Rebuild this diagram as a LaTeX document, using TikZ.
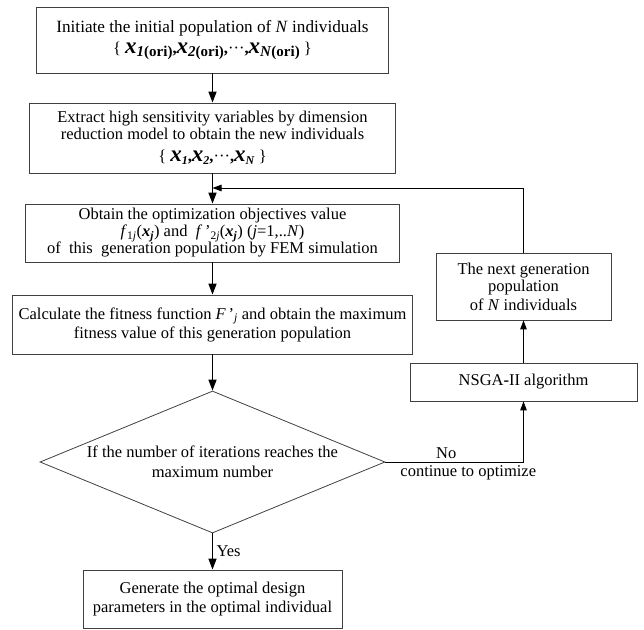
\documentclass[tikz,border=0pt]{standalone}
\usepackage{fontspec}
\setmainfont{Liberation Serif}
\usepackage{tikz}
\usetikzlibrary{arrows, arrows.meta, shapes.geometric}
\newcommand{\popx}[2]{{\fontsize{23}{23}\selectfont\bfseries\itshape x}\raisebox{-3pt}{\fontsize{#1}{#1}\selectfont\bfseries #2}}

\begin{document}
\begin{tikzpicture}[x=1pt, y=-1pt]
\tikzstyle{every node}=[font=\fontsize{16.5}{17}\selectfont]
\tikzstyle{box}=[draw=black!75, line width=0.8pt, rectangle, align=center, inner sep=0pt]
\tikzstyle{decision}=[draw=black!75, line width=0.8pt, diamond, inner sep=0pt]
\tikzstyle{mainarrow}=[line width=1.5pt, -{Triangle[length=11pt, width=8pt]}]
\tikzstyle{sidearrow}=[line width=1pt, -{Triangle[length=9pt, width=6.5pt]}]
\useasboundingbox (0,0) rectangle (644,629);

\node[box, minimum width=352pt, minimum height=66pt] (init) at (212.5,40) {{\fontsize{17.2}{18}\selectfont Initiate the initial population of \textit{N} individuals}\\[4pt]
  \{ \popx{15}{\textit{1}(ori)}\textbf{,}\popx{15}{\textit{2}(ori)}\textbf{,}···\textbf{,}\popx{15}{\textit{N}(ori)} \}};
\node[box, minimum width=366pt, minimum height=70pt] (extract) at (212.5,138) {Extract high sensitivity variables by dimension\\
  reduction model to obtain the new individuals\\[5pt]
  \{ \popx{12}{\textit{1}}\textbf{,}\popx{12}{\textit{2}}\textbf{,}···\textbf{,}\popx{12}{\textit{N}} \}};
\node[box, minimum width=374pt, minimum height=58pt] (obtain) at (212.5,233) {Obtain the optimization objectives value\\
  \textit{f}\textsubscript{1\textit{j}}(\textbf{\textit{x\textsubscript{j}}}) and \ \textit{f}\,’\textsubscript{2\textit{j}}(\textbf{\textit{x\textsubscript{j}}}) (\textit{j}=1,..\textit{N})\\
  of \ this \ generation population by FEM simulation};
\node[box, minimum width=400pt, minimum height=59pt] (calc) at (212.5,324.5) {Calculate the fitness function \textit{F}\,’\textsubscript{\textit{j}} and obtain the maximum\\[2pt]
  fitness value of this generation population};
\node[decision, minimum width=345pt, minimum height=142pt] (cond) at (212.5,462) {};
\node[align=center] (condtext) at (cond.center) {If the number of iterations reaches the\\[3pt] maximum number};
\node[box, minimum width=259pt, minimum height=58pt] (final) at (212.5,599) {Generate the optimal design\\[2pt]
  parameters in the optimal individual};
\node[box, minimum width=175pt, minimum height=67pt] (nextgen) at (523.5,286.5) {The next generation\\ population\\[2pt] of \textit{N} individuals};
\node[box, minimum width=227pt, minimum height=38pt] (nsga) at (523.5,382) {NSGA\textbf{-}II algorithm};
\coordinate (back) at (212.5,188);

\path[mainarrow]
(init) edge (extract)
(extract) edge (obtain)
(obtain) edge (calc)
(calc) edge (cond)
(cond) edge node[right] (yes) {Yes} (final);

\draw[sidearrow] (cond.east) -| node[pos=0.22, above] (no) {No}
  node[pos=0.3, below] (cont) {continue to optimize} (nsga.south);
\path[sidearrow] (nsga) edge (nextgen);
\draw[sidearrow] (nextgen.north) |- (back);
\end{tikzpicture}
\end{document}
